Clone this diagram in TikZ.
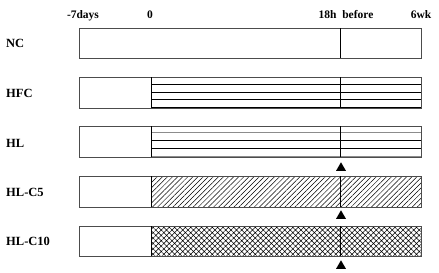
\documentclass[tikz,border=0pt]{standalone}
\usepackage{fontspec}
\setmainfont{Liberation Serif}
\usetikzlibrary{patterns.meta,shapes.geometric}
\tikzset{bar/.style={draw=black!70,line width=.7pt},
  split/.style={draw=black,line width=.6pt},
  stripe/.style={draw=black,line width=.5pt},
  greystripe/.style={draw=black!45,line width=1pt},
  grp/.style={anchor=west,inner sep=0pt,font=\bfseries\fontsize{12.5}{14}\selectfont},
  tim/.style={anchor=base,inner sep=0pt,font=\bfseries\fontsize{11.5}{14}\selectfont},
  flag/.style={regular polygon,regular polygon sides=3,fill=black,inner sep=0pt,minimum size=11.5pt}}

\begin{document}
\begin{tikzpicture}[x=1pt,y=-1pt]
\useasboundingbox (0,0) rectangle (439,273);
% time axis
\node[tim] (tstart) at (83,18) {-7days};
\node[tim] (tzero) at (150,18) {0};
\node[tim] (tbefore) at (346,18) {18h\ \ before};
\node[tim] (tend) at (421,18) {6wk};
% groups
\node[grp] (nc) at (6,43) {NC};
\node[grp] (hfc) at (6,93) {HFC};
\node[grp] (hl) at (6,143) {HL};
\node[grp] (hlc5) at (6,192) {HL-C5};
\node[grp] (hlc10) at (6,241) {HL-C10};
% NC
\draw[bar] (79,28) rectangle (421,58);
\draw[split] (340,28)--(340,58);
% HFC
\draw[stripe] (151,84.5)--(421,84.5) (151,92)--(421,92) (151,99.5)--(421,99.5);
\draw[bar] (79,77) rectangle (421,108);
\draw[line width=1.1pt] (151,107.5)--(421,107.5);
\draw[split] (151,77)--(151,108) (340,77)--(340,108);
% HL
\draw[greystripe] (151,132.5)--(421,132.5);
\draw[stripe] (151,140.5)--(421,140.5) (151,148.5)--(421,148.5);
\draw[bar] (79,126) rectangle (421,157);
\draw[greystripe] (151,156)--(421,156);
\draw[split] (151,126)--(151,157) (340,126)--(340,157);
% HL-C5
\fill[pattern={Lines[angle=45,distance=3.6pt,line width=.5pt]}] (151,176) rectangle (421,207);
\draw[bar] (79,176) rectangle (421,207);
\draw[split] (151,176)--(151,207) (340,176)--(340,207);
% HL-C10
\fill[pattern={Hatch[angle=45,distance=3.8pt,line width=.5pt]}] (151,226) rectangle (421,256);
\draw[bar] (79,226) rectangle (421,256);
\draw[split] (151,226)--(151,256) (340,226)--(340,256);
% sampling points
\node[flag] (s1) at (341,168) {};
\node[flag] (s2) at (341,216) {};
\node[flag] (s3) at (341,266) {};
\end{tikzpicture}
\end{document}
